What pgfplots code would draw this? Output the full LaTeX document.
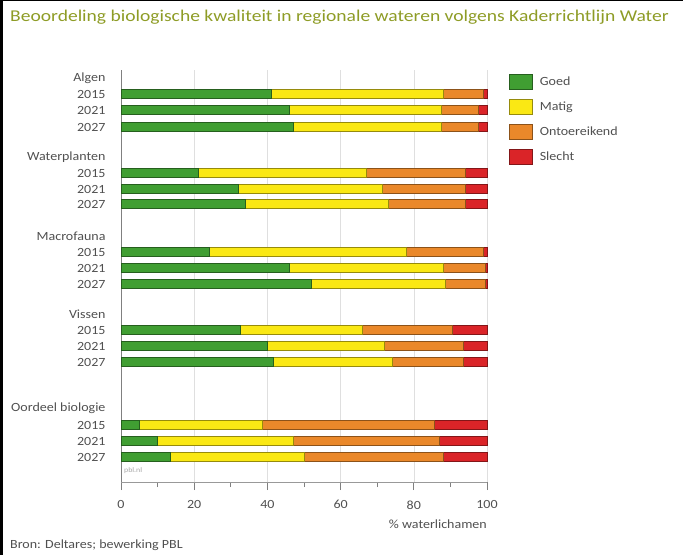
\documentclass[border=0pt]{standalone}
\usepackage{fontspec}
\setmainfont{Carlito}[FakeStretch=1.12]
\newfontfamily\titlefont{Carlito}[FakeStretch=1.185]
\usepackage{pgfplots}
\usepackage{pgfplotstable}
\pgfplotsset{compat=1.18}
\definecolor{cgoed}{RGB}{64,158,50}
\definecolor{cmatig}{RGB}{250,232,20}
\definecolor{contoe}{RGB}{234,136,42}
\definecolor{cslecht}{RGB}{218,36,40}
\definecolor{ctitle}{RGB}{142,156,38}
\definecolor{ctext}{RGB}{80,80,80}
\pgfplotstableread{
y G M O S
-94 41 47 11 1
-110 46 41.5 10 2.5
-127 47 40.5 10 2.5
-173 21 46 27 6
-189 32 39.5 22.5 6
-204 34 39 21 6
-252 24 54 21 1
-268 46 42 11.5 0.5
-284 52 36.5 11 0.5
-330 32.5 33.5 24.5 9.5
-346 40 32 21.5 6.5
-362 41.5 32.5 19.5 6.5
-425 5 33.5 47 14.5
-441 10 37 40 13
-457 13.5 36.5 38 12
}\datatable
\begin{document}
\begin{tikzpicture}
\useasboundingbox (0,0) rectangle (683bp,-555bp);
\fill[black] (0,0) rectangle (3bp,-555bp);
\fill[black] (0,0) rectangle (683bp,-1.2bp);
\node[anchor=west, text=ctitle, font=\titlefont\fontsize{16.5bp}{19bp}\selectfont, inner sep=0] at (10bp,-17bp) {Beoordeling biologische kwaliteit in regionale wateren volgens Kaderrichtlijn Water};
\begin{axis}[
  at={(121bp,-70bp)}, anchor=north west,
  scale only axis, width=366bp, height=412bp,
  xmin=0, xmax=100, ymin=-482, ymax=-70,
  xbar stacked, bar width=8.5bp,
  axis x line*=bottom, axis y line*=left,
  x axis line style={gray!80, line width=0.8bp},
  y axis line style={gray, line width=1bp, -},
  xtick={0,20,...,100}, minor xtick={10,30,...,90},
  tick align=outside, major tick length=8bp, minor tick length=5bp,
  every tick/.style={gray, line width=0.8bp},
  xmajorgrids, major grid style={gray!25, line width=0.6bp},
  ytick={-78,-94,-110,-127,-157,-173,-189,-204,-236,-252,-268,-284,-314,-330,-346,-362,-408,-425,-441,-457},
  yticklabels={Algen,2015,2021,2027,Waterplanten,2015,2021,2027,Macrofauna,2015,2021,2027,Vissen,2015,2021,2027,Oordeel biologie,2015,2021,2027},
  ytick style={draw=none},
  /pgf/number format/assume math mode=true,
  tick label style={font=\fontsize{12.5bp}{14bp}\selectfont, text=ctext},
  yticklabel style={xshift=-4bp},
  xticklabel style={yshift=-7bp},
  legend image code/.code={\draw[#1] (0bp,-7.5bp) rectangle (23bp,7.5bp);},
  legend style={at={(axis cs:105.2,-72)}, anchor=north west, draw=none, fill=none,
    font=\fontsize{12.5bp}{14bp}\selectfont, text=ctext, row sep=9.5bp,
    /tikz/every odd column/.append style={column sep=5bp}},
  legend cell align=left,
  clip=false,
]
\addplot[fill=cgoed, draw=cgoed!60!black, line width=0.6bp] table[x=G, y=y] {\datatable};
\addplot[fill=cmatig, draw=cmatig!60!black, line width=0.6bp] table[x=M, y=y] {\datatable};
\addplot[fill=contoe, draw=contoe!60!black, line width=0.6bp] table[x=O, y=y] {\datatable};
\addplot[fill=cslecht, draw=cslecht!60!black, line width=0.6bp] table[x=S, y=y] {\datatable};
\legend{Goed,Matig,Ontoereikend,Slecht}
\end{axis}
\node[anchor=west, text=gray!70, font=\fontsize{7bp}{8bp}\selectfont, inner sep=0] at (124bp,-471bp) {pbl.nl};
\node[anchor=east, text=ctext, font=\fontsize{12.5bp}{14bp}\selectfont, inner sep=0] at (487bp,-524bp) {\% waterlichamen};
\node[anchor=west, text=ctext, font=\fontsize{12.5bp}{14bp}\selectfont, inner sep=0] at (10bp,-545bp) {Bron: Deltares; bewerking PBL};
\end{tikzpicture}
\end{document}
